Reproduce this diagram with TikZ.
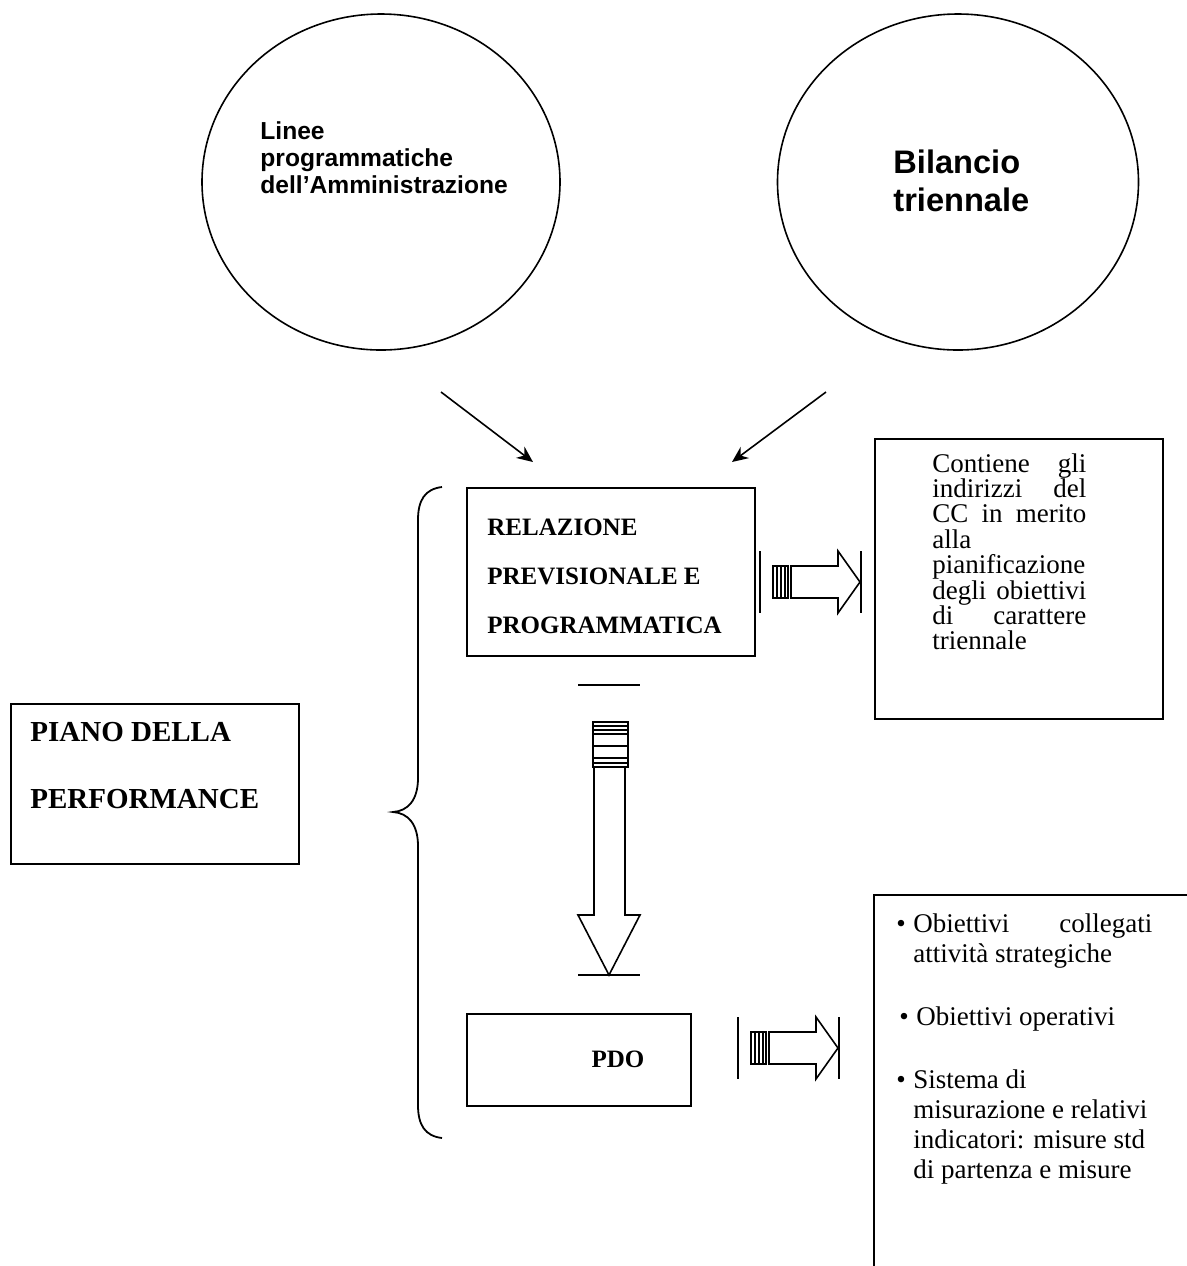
\documentclass[tikz,border=0pt]{standalone}
\usepackage{fontspec}
\setmainfont{Liberation Serif}
\setsansfont{Liberation Sans}
\usetikzlibrary{arrows.meta,shapes.geometric}
\newcommand{\tblock}[2]{\vtop{\hsize=#1\relax\parindent=0pt\raggedright\noindent#2}}
\begin{document}
\begin{tikzpicture}[x=0.5pt,y=-0.5pt,
  boxline/.style={draw, line width=1.1pt, inner sep=0pt},
  circ/.style={draw, ellipse, line width=0.8pt, inner sep=0pt},
  diag/.style={line width=0.8pt, -{Stealth[length=8pt,width=7pt]}},
  blk/.style={line width=0.8pt},
  bar/.style={line width=1.1pt},
  txt/.style={anchor=base west, inner sep=0pt},
  sansb/.style={font=\sffamily\bfseries\fontsize{12.3}{13.5}\selectfont},
  relb/.style={font=\bfseries\fontsize{12.5}{24.5}\selectfont},
  pianob/.style={font=\bfseries\fontsize{14.5}{33.5}\selectfont},
  notef/.style={font=\fontsize{13.5}{12.7}\selectfont},
  listf/.style={font=\fontsize{13.5}{15}\selectfont}]
\fill[white] (0,0) rectangle (1187,1266);
\path[use as bounding box] (0,0) rectangle (1187,1266);

% circles
\node[circ, minimum width=179pt, minimum height=168pt] (lin) at (381,182) {};
\node[circ, minimum width=180.5pt, minimum height=168pt] (bil) at (958,182) {};
\node[txt, sansb] (lintxt) at (260,139) {\tblock{140pt}{Linee\\programmatiche\\dell’Amministrazione}};
\node[txt, font=\sffamily\bfseries\fontsize{16.3}{19}\selectfont] (biltxt) at (893,173) {\tblock{100pt}{Bilancio\\triennale}};

% diagonal arrows
\coordinate (a1s) at (441,392);
\coordinate (a1e) at (533,462);
\coordinate (a2s) at (826,392);
\coordinate (a2e) at (732,462);
\draw[diag] (a1s) -- (a1e);
\draw[diag] (a2s) -- (a2e);

% relazione box
\node[boxline, anchor=north west, minimum width=144pt, minimum height=84pt] (rpp) at (466,487) {};
\node[txt, relb] (rpptxt) at (487,535) {\tblock{140pt}{RELAZIONE\\PREVISIONALE E\\PROGRAMMATICA}};

% note box
\node[boxline, anchor=north west, minimum width=144pt, minimum height=140pt] (note) at (874,438) {};
\node[txt, notef] (notetxt) at (932,472) {\tblock{77pt}{Contiene\hfill gli\\indirizzi\hfill del\\CC\hfill in\hfill merito\\alla\\pianificazione\\degli\hfill obiettivi\\di\hfill carattere\\triennale}};

% piano box
\node[boxline, anchor=north west, minimum width=144pt, minimum height=80pt] (piano) at (10,703) {};
\node[txt, pianob] (pianotxt) at (30,741) {\tblock{140pt}{PIANO DELLA\\PERFORMANCE}};

% brace
\draw[line width=0.9pt] (442,487) .. controls (425,489) and (418,500) .. (418,520) -- (418,778)
  .. controls (418,800) and (408,811) .. (393,812) .. controls (408,813) and (418,824) .. (418,846)
  -- (418,1105) .. controls (418,1125) and (425,1136) .. (442,1138);

% down arrow
\draw[bar] (578,685) -- (640,685);
\draw[blk] (593,722) rectangle (628,767);
\foreach \yy in {726,730,734,746,758,763} \draw[blk] (593,\yy) -- (628,\yy);
\draw[blk] (594,767) -- (594,915) -- (578,915) -- (609,975) -- (640,915) -- (625,915) -- (625,767);
\draw[bar] (578,975) -- (640,975);

% right arrow 1
\begin{scope}[shift={(0,582)}]
\draw[blk] (760,-31) -- (760,31);
\draw[blk] (773,-16) rectangle (788,16);
\foreach \xx in {777,781,785} \draw[blk] (\xx,-16) -- (\xx,16);
\draw[blk] (791,-16) -- (838,-16) -- (838,-31) -- (860,0) -- (838,31) -- (838,16) -- (791,16) -- cycle;
\draw[blk] (861,-31) -- (861,31);
\end{scope}

% PDO box
\node[boxline, anchor=north west, minimum width=112pt, minimum height=46pt] (pdo) at (466,1013) {};
\node[anchor=base, inner sep=0pt, relb] (pdotxt) at (618,1067) {PDO};

% right arrow 2
\begin{scope}[shift={(-22,1048)}]
\draw[blk] (760,-31) -- (760,31);
\draw[blk] (773,-16) rectangle (788,16);
\foreach \xx in {777,781,785} \draw[blk] (\xx,-16) -- (\xx,16);
\draw[blk] (791,-16) -- (838,-16) -- (838,-31) -- (860,0) -- (838,31) -- (838,16) -- (791,16) -- cycle;
\draw[blk] (861,-31) -- (861,31);
\end{scope}

% list box
\draw[line width=1.1pt] (874,1266) -- (874,895) -- (1187,895);
\node[anchor=base, inner sep=0pt, listf] (bu1) at (901,932) {\textbullet};
\node[txt, listf] (li1) at (913,932) {\tblock{119.5pt}{Obiettivi\hfill collegati\\attività strategiche}};
\node[anchor=base, inner sep=0pt, listf] (bu2) at (904,1025) {\textbullet};
\node[txt, listf] (li2) at (916,1025) {Obiettivi operativi};
\node[anchor=base, inner sep=0pt, listf] (bu3) at (901,1088) {\textbullet};
\node[txt, listf] (li3) at (913,1088) {\tblock{119.5pt}{Sistema di\\misurazione e relativi\\indicatori: misure std\\di partenza e misure}};
\end{tikzpicture}
\end{document}
